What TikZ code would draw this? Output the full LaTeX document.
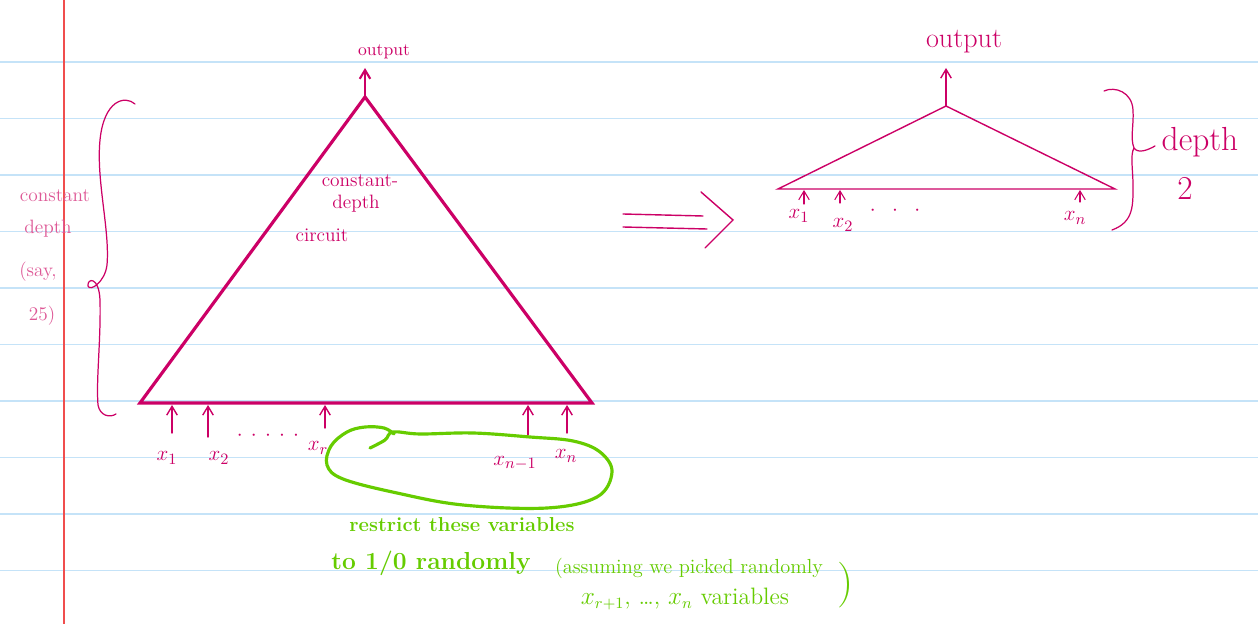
\documentclass[tikz,border=0pt]{standalone}
\usetikzlibrary{arrows.meta}

\definecolor{ink}{RGB}{204,0,102}
\definecolor{softink}{RGB}{222,88,150}
\definecolor{marker}{RGB}{102,204,0}
\definecolor{rule}{RGB}{197,227,248}
\definecolor{margin}{RGB}{240,78,78}

\tikzset{
    wire/.style={ink, line width=0.8pt},
    pen/.style={text=ink, inner sep=1pt, font=\fontsize{13}{15}\selectfont},
    sidenote/.style={text=softink, inner sep=1pt, font=\fontsize{11}{13}\selectfont},
    greennote/.style={text=marker, inner sep=1pt}
}

\begin{document}
\begin{tikzpicture}[x=0.02cm,y=-0.02cm,>={Straight Barb[length=5pt,width=6pt]},line cap=round]
    % the sheet of lined paper
    \fill[white] (0,0) rectangle (1258,624);
    \useasboundingbox (0,0) rectangle (1258,624);
    \foreach \y in {62,118.5,...,571}
        \draw[rule, line width=1.1pt] (0,\y) -- (1258,\y);
    \draw[margin, line width=1.1pt] (64,0) -- (64,624);

    % the big circuit
    \coordinate (apex) at (365,97);
    \coordinate (bl) at (140,403);
    \coordinate (br) at (592,403);
    \draw[ink, line width=1.8pt, line join=miter] (apex) -- (bl) -- (br) -- cycle;
    \coordinate (outtip) at (365,68);
    \draw[wire, line width=1.2pt, ->] (apex) -- (outtip);
    \node[pen, font=\fontsize{10}{12}\selectfont] (out) at (384,52) {output};

    \node[pen, font=\fontsize{11}{13}\selectfont] (c1) at (360,181) {constant-};
    \node[pen, font=\fontsize{11}{13}\selectfont] (c2) at (356,204) {depth};
    \node[pen, font=\fontsize{11}{13}\selectfont] (c3) at (322,235) {circuit};

    % inputs of the big circuit
    \foreach \i/\x/\t in {1/172/433, 2/208/437, r/325/428, m/528/435, n/567/433} {
            \coordinate (t\i) at (\x,\t);
            \coordinate (h\i) at (\x,405);
            \draw[wire, ->] (t\i) -- (h\i);
    }
    \node[pen] (lx1) at (167,458) {$x_1$};
    \node[pen] (lx2) at (219,458) {$x_2$};
    \node[pen] (ldots) at (268,436) {$\cdot\,\cdot\,\cdot\,\cdot\,\cdot$};
    \node[pen] (lxr) at (318,448) {$x_r$};
    \node[pen] (lxm) at (515,463) {$x_{n-1}$};
    \node[pen] (lxn) at (566,456) {$x_n$};

    % the brace for the depth
    \draw[ink, line width=0.7pt] (135,104) .. controls (125,95) and (104,100) .. (100,140)
        .. controls (96,180) and (110,230) .. (107,265)
        .. controls (105,282) and (90,292) .. (88,286)
        .. controls (87,278) and (99,276) .. (100,300)
        .. controls (101,340) and (96,380) .. (98,405)
        .. controls (100,416) and (110,418) .. (116,414);
    \node[sidenote] (side1) at (55,196) {constant};
    \node[sidenote] (side2) at (48,229) {depth};
    \node[sidenote] (side3) at (38,272) {(say,};
    \node[sidenote] (side4) at (42,316) {25)};

    % the variables that get restricted
    \draw[marker, line width=1.8pt] plot[smooth, tension=0.6] coordinates {
        (370,448) (385,440) (393,432) (420,434) (473,433) (530,437) (573,441)
        (600,452) (612,472) (597,497) (547,508) (463,505) (397,493) (343,479)
        (327,465) (331,446) (347,432) (365,427) (384,428) (394,434)};
    \node[greennote, font=\bfseries\fontsize{11.5}{13}\selectfont] (g1) at (462,525) {restrict these variables};
    \node[greennote, font=\bfseries\fontsize{14}{16}\selectfont] (g2) at (431,563) {to 1/0 randomly};
    \node[greennote, font=\fontsize{11.6}{13}\selectfont] (g3) at (689,568) {(assuming we picked randomly};
    \node[greennote, font=\fontsize{13.5}{15}\selectfont] (g4) at (685,599) {$x_{r+1}$, \ldots, $x_n$ variables};
    \node[greennote, font=\fontsize{26}{28}\selectfont] (g5) at (846,585) {)};

    % the implies arrow
    \draw[wire] (623,214) -- (703,216);
    \draw[wire] (623,227) -- (707,229);
    \draw[wire] (701,192) -- (733,220) -- (705,248);

    % the depth 2 circuit
    \coordinate (top) at (946,106);
    \coordinate (sl) at (778,189);
    \coordinate (sr) at (1115,189);
    \draw[wire, line join=miter] (top) -- (sl) -- (sr) -- cycle;
    \coordinate (souttip) at (946,68);
    \draw[wire, ->] (top) -- (souttip);
    \node[pen, font=\fontsize{16}{18}\selectfont] (sout) at (964,42) {output};

    \foreach \i/\x/\t in {1/804/204, 2/840/203, n/1080/202} {
            \coordinate (st\i) at (\x,\t);
            \coordinate (sh\i) at (\x,190);
            \draw[wire, line width=0.6pt, ->] (st\i) -- (sh\i);
    }
    \node[pen] (sx1) at (799,216) {$x_1$};
    \node[pen] (sx2) at (843,225) {$x_2$};
    \node[pen] (sdots) at (895,211) {$\cdot\;\;\cdot\;\;\cdot$};
    \node[pen] (sxn) at (1075,218) {$x_n$};

    % the brace for depth 2
    \draw[ink, line width=0.7pt] (1104,91) .. controls (1115,86) and (1132,92) .. (1133,110)
        .. controls (1134,125) and (1130,138) .. (1134,148)
        .. controls (1138,154) and (1148,150) .. (1155,146)
        (1134,148) .. controls (1130,155) and (1133,170) .. (1133,185)
        .. controls (1133,205) and (1134,222) .. (1112,230);
    \node[pen, font=\fontsize{19}{21}\selectfont] (d1) at (1200,142) {depth};
    \node[pen, font=\fontsize{19}{21}\selectfont] (d2) at (1185,188) {2};
\end{tikzpicture}
\end{document}
